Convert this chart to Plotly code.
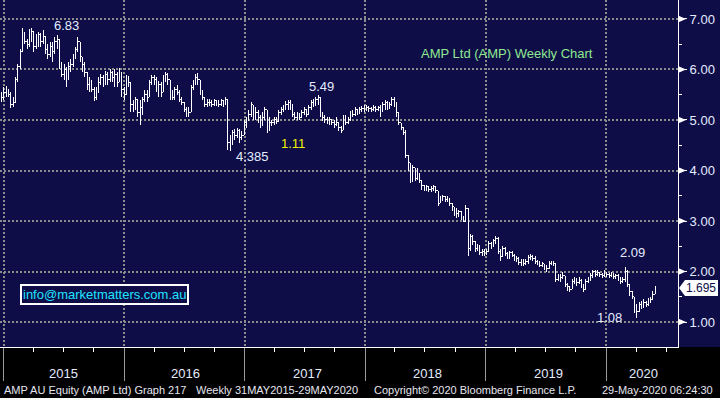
import plotly.graph_objects as go
import pandas as pd

# ---------------- data (weekly bars) ----------------
start_date = "2014-12-26"
first_open = 5.40

close = [
    5.45, 5.55, 5.60, 5.50, 5.30, 5.35, 5.80, 6.05, 6.35, 6.70, 6.55, 6.50,
    6.70, 6.75, 6.45, 6.60, 6.70, 6.55, 6.65, 6.40, 6.30, 6.45, 6.35, 6.55, 6.60,
    6.10, 5.90, 6.00, 5.80, 6.05, 6.10,
    6.25, 6.40, 6.55, 6.25, 6.10, 5.95,
    5.70, 5.75, 5.60, 5.45, 5.55,
    5.75, 5.85, 5.70, 5.90, 5.80, 5.95, 5.85,
    5.90, 5.75, 5.95, 5.60, 5.50, 5.80, 5.75, 5.30, 5.25,
    5.40, 5.15, 5.25, 5.40, 5.50, 5.45,
    5.75, 5.85, 5.80, 5.60, 5.70, 5.55,
    5.85, 5.90, 5.80, 5.50, 5.45, 5.60,
    5.55, 5.40, 5.35, 5.20, 5.10, 5.15,
    5.65, 5.75, 5.85, 5.80, 5.55, 5.45,
    5.30, 5.35, 5.35, 5.30, 5.38, 5.35, 5.30, 5.38, 5.32,
    5.40, 4.55, 4.60, 4.75, 4.70, 4.80, 4.65, 4.70,
    4.95, 5.00, 5.10, 5.30, 5.10, 5.15, 5.05, 4.90, 5.05, 5.20,
    4.80, 4.95, 4.95, 5.00, 4.98, 5.15, 5.20, 5.25, 5.30, 5.35, 5.30,
    5.10, 5.05, 5.12, 5.05, 5.15, 5.20, 5.10, 5.25, 5.35, 5.30, 5.40, 5.45,
    5.10, 5.05, 5.00, 4.98, 5.00, 4.95, 4.92, 4.95, 4.85, 4.80, 5.05, 4.95, 5.00,
    5.15, 5.10, 5.20, 5.15, 5.20, 5.22, 5.20, 5.25, 5.22, 5.20, 5.25, 5.20, 5.25,
    5.18, 5.30, 5.35, 5.25, 5.30, 5.40, 5.35, 5.15, 4.95, 4.85,
    4.75, 4.30, 4.15, 3.85, 4.05, 3.85, 3.95, 3.80,
    3.70, 3.65, 3.68, 3.62, 3.65, 3.68, 3.60, 3.35, 3.45,
    3.48, 3.42, 3.45, 3.35, 3.28, 3.20, 3.15, 3.18, 3.08, 3.00,
    3.25, 2.45, 2.70, 2.60, 2.45, 2.50, 2.38, 2.40, 2.35, 2.40,
    2.55, 2.50, 2.62, 2.65, 2.40, 2.30, 2.45, 2.35, 2.30, 2.38, 2.32, 2.28,
    2.25, 2.18, 2.22, 2.15, 2.20, 2.28, 2.30, 2.25, 2.20, 2.18, 2.12, 2.15, 2.08, 2.05, 2.15, 2.18, 2.15,
    1.85, 1.90, 1.88, 1.92, 1.75, 1.70, 1.65, 1.80, 1.85, 1.78, 1.82, 1.72, 1.65,
    1.80, 1.85, 1.92, 2.00, 1.95, 1.98, 1.95, 1.92, 1.98, 1.95, 1.92, 1.95, 1.90, 1.92, 1.88, 1.80, 1.85,
    2.00, 1.75, 1.60, 1.50, 1.30, 1.20, 1.35, 1.30, 1.38, 1.35, 1.40, 1.45, 1.55, 1.695,
]

high = [
    5.55, 5.65, 5.68, 5.62, 5.55, 5.45, 5.85, 6.10, 6.40, 6.82, 6.75, 6.60,
    6.80, 6.83, 6.65, 6.70, 6.75, 6.72, 6.78, 6.65, 6.50, 6.55, 6.55, 6.65, 6.68,
    6.35, 6.15, 6.10, 6.05, 6.15, 6.20,
    6.30, 6.45, 6.64, 6.55, 6.25, 6.15,
    5.95, 5.85, 5.80, 5.65, 5.65,
    5.85, 5.92, 5.90, 5.98, 5.95, 6.00, 5.98,
    6.00, 5.95, 6.02, 5.80, 5.65, 5.90, 5.88, 5.50, 5.40,
    5.45, 5.35, 5.40, 5.45, 5.60, 5.60,
    5.80, 5.90, 5.90, 5.85, 5.78, 5.75,
    5.90, 5.95, 5.93, 5.70, 5.60, 5.65,
    5.70, 5.60, 5.45, 5.35, 5.25, 5.25,
    5.70, 5.80, 5.92, 5.93, 5.80, 5.60,
    5.45, 5.42, 5.42, 5.40, 5.42, 5.40, 5.40, 5.42, 5.40,
    5.45, 5.40, 4.70, 4.80, 4.82, 4.85, 4.82, 4.78,
    5.00, 5.05, 5.20, 5.35, 5.30, 5.25, 5.20, 5.10, 5.15, 5.25,
    5.05, 5.05, 5.00, 5.05, 5.05, 5.20, 5.25, 5.30, 5.38, 5.40, 5.40,
    5.30, 5.15, 5.15, 5.12, 5.20, 5.25, 5.22, 5.30, 5.40, 5.42, 5.45, 5.49,
    5.42, 5.15, 5.10, 5.05, 5.05, 5.02, 5.00, 5.05, 4.95, 4.88, 5.10, 5.10, 5.05,
    5.18, 5.20, 5.25, 5.22, 5.25, 5.28, 5.30, 5.30, 5.28, 5.25, 5.30, 5.28, 5.28,
    5.30, 5.35, 5.40, 5.38, 5.35, 5.45, 5.45, 5.30, 5.05, 4.95,
    4.85, 4.80, 4.25, 4.15, 4.10, 4.00, 4.05, 3.95,
    3.78, 3.72, 3.72, 3.70, 3.70, 3.72, 3.70, 3.60, 3.50,
    3.52, 3.50, 3.50, 3.45, 3.35, 3.28, 3.25, 3.22, 3.20, 3.10,
    3.32, 3.25, 2.75, 2.72, 2.60, 2.55, 2.52, 2.45, 2.45, 2.45,
    2.60, 2.58, 2.65, 2.70, 2.68, 2.45, 2.50, 2.48, 2.38, 2.40, 2.40, 2.35,
    2.30, 2.28, 2.25, 2.25, 2.25, 2.32, 2.35, 2.32, 2.30, 2.22, 2.20, 2.18, 2.15, 2.12, 2.20, 2.20, 2.20,
    2.00, 1.95, 1.95, 2.00, 1.90, 1.78, 1.72, 1.85, 1.90, 1.88, 1.90, 1.85, 1.75,
    1.85, 1.90, 1.98, 2.03, 2.02, 2.02, 2.00, 1.98, 2.02, 2.00, 1.98, 2.00, 1.98, 1.95, 1.95, 1.90, 1.90,
    2.09, 2.02, 1.75, 1.62, 1.48, 1.35, 1.40, 1.42, 1.45, 1.42, 1.48, 1.50, 1.62, 1.72,
]

low = [
    5.35, 5.40, 5.45, 5.45, 5.24, 5.25, 5.40, 5.75, 6.00, 6.35, 6.50, 6.40,
    6.45, 6.55, 6.35, 6.40, 6.45, 6.45, 6.50, 6.30, 6.20, 6.25, 6.15, 6.30, 6.40,
    6.00, 5.85, 5.80, 5.65, 5.80, 5.95,
    6.05, 6.20, 6.35, 6.15, 5.95, 5.85,
    5.60, 5.55, 5.55, 5.38, 5.40,
    5.55, 5.70, 5.65, 5.70, 5.70, 5.75, 5.75,
    5.65, 5.65, 5.80, 5.45, 5.40, 5.55, 5.65, 5.15, 5.15,
    5.20, 5.05, 4.90, 5.10, 5.35, 5.35,
    5.50, 5.70, 5.70, 5.55, 5.45, 5.45,
    5.60, 5.75, 5.70, 5.40, 5.40, 5.40,
    5.50, 5.35, 5.30, 5.15, 5.05, 5.05,
    5.15, 5.60, 5.70, 5.70, 5.50, 5.40,
    5.25, 5.25, 5.28, 5.25, 5.28, 5.28, 5.25, 5.28, 5.25,
    5.30, 4.40, 4.39, 4.50, 4.60, 4.65, 4.55, 4.60,
    4.70, 4.85, 4.98, 5.05, 5.00, 5.00, 4.95, 4.85, 4.88, 5.00,
    4.75, 4.78, 4.88, 4.90, 4.92, 5.00, 5.10, 5.15, 5.20, 5.20, 5.20,
    5.05, 5.00, 5.00, 5.00, 5.05, 5.10, 5.05, 5.10, 5.20, 5.25, 5.28, 5.30,
    5.05, 4.98, 4.95, 4.92, 4.90, 4.90, 4.85, 4.88, 4.78, 4.75, 4.80, 4.90, 4.92,
    4.98, 5.05, 5.08, 5.10, 5.12, 5.15, 5.15, 5.18, 5.15, 5.15, 5.18, 5.15, 5.18,
    5.05, 5.15, 5.20, 5.20, 5.22, 5.28, 5.25, 5.05, 4.90, 4.80,
    4.70, 4.25, 4.00, 3.75, 3.78, 3.80, 3.82, 3.75,
    3.62, 3.60, 3.60, 3.58, 3.58, 3.60, 3.55, 3.30, 3.40,
    3.40, 3.38, 3.38, 3.30, 3.20, 3.10, 3.05, 3.08, 3.02, 2.98,
    2.98, 2.30, 2.40, 2.52, 2.38, 2.40, 2.32, 2.30, 2.30, 2.32,
    2.38, 2.45, 2.48, 2.55, 2.35, 2.20, 2.28, 2.30, 2.25, 2.25, 2.28, 2.20,
    2.18, 2.12, 2.10, 2.10, 2.12, 2.15, 2.22, 2.20, 2.15, 2.12, 2.08, 2.08, 2.02, 2.00, 2.05, 2.12, 2.10,
    1.80, 1.82, 1.80, 1.85, 1.70, 1.62, 1.60, 1.65, 1.75, 1.72, 1.75, 1.68, 1.60,
    1.65, 1.78, 1.82, 1.88, 1.90, 1.92, 1.90, 1.88, 1.90, 1.90, 1.88, 1.90, 1.85, 1.85, 1.82, 1.75, 1.78,
    1.80, 1.70, 1.52, 1.45, 1.18, 1.08, 1.20, 1.25, 1.28, 1.30, 1.32, 1.38, 1.45, 1.55,
]

year_labels = ["2015", "2016", "2017", "2018", "2019", "2020"]
y_ticks = [1, 2, 3, 4, 5, 6, 7]
last_price = "1.695"

# weekly bars: open taken as previous week's close
dates = pd.date_range(start_date, periods=len(close), freq="7D")
opens = [first_open] + close[:-1]
high_adj = [max(h, o, c) for h, o, c in zip(high, opens, close)]
low_adj = [min(l, o, c) for l, o, c in zip(low, opens, close)]

# ---------------- styling ----------------
NAVY = "#0e0d48"
GRID = "#8c8c8c"
LABEL = "#e4ecff"
FONT = "Liberation Sans"
PW, PH = 678.0, 347.0  # plot area in px


def P(x, y):
    """pixel position -> paper coords"""
    return x / PW, 1 - y / PH


fig = go.Figure()
fig.add_trace(go.Ohlc(
    x=dates, open=opens, high=high_adj, low=low_adj, close=close,
    increasing=dict(line=dict(color="white", width=1)),
    decreasing=dict(line=dict(color="white", width=1)),
    tickwidth=0.45, hoverinfo="skip", showlegend=False,
))

annotations = []


def add_text(text, x, y, color=LABEL, size=13, xanchor="center", **kw):
    px_, py_ = P(x, y)
    annotations.append(dict(
        text=text, x=px_, y=py_, xref="paper", yref="paper",
        xanchor=xanchor, yanchor="middle", showarrow=False,
        font=dict(family=FONT, size=size, color=color), **kw))


# value callouts
add_text("6.83", 66, 26)
add_text("4.385", 252, 157)
add_text("5.49", 321, 87)
add_text("1.11", 293, 144, color="#f0f000")
add_text("2.09", 632, 252)
add_text("1.08", 609, 317)
add_text("AMP Ltd (AMP) Weekly Chart", 507, 53, color="#8fe88f")
add_text("info@marketmatters.com.au", 104, 294, color="#1ee4ff",
         bordercolor="white", borderwidth=2, borderpad=1, bgcolor=NAVY)

# year labels, centred in each visible year span
year_px = [3.5, 124, 247, 367, 488, 608, 678]
for i, lab in enumerate(year_labels):
    add_text(lab, (year_px[i] + year_px[i + 1]) / 2, 373, size=13)

# footer
FOOT = "#e6e6f0"
add_text("AMP AU Equity (AMP Ltd) Graph 217", 2, 390, size=11, xanchor="left", color=FOOT)
add_text("Weekly 31MAY2015-29MAY2020", 194, 390, size=11, xanchor="left", color=FOOT)
add_text("Copyright\u00a9 2020 Bloomberg Finance L.P.", 372, 390, size=11, xanchor="left", color=FOOT)
add_text("29-May-2020 06:24:30", 600, 390, size=11, xanchor="left", color=FOOT)

# last price flag text
add_text(last_price, 701, 288, color=NAVY, size=12)

shapes = []
# black footer band
x0, y0 = P(-5, 347)
x1, y1 = P(725, 405)
shapes.append(dict(type="rect", xref="paper", yref="paper", x0=x0, y0=y0, x1=x1, y1=y1,
                   fillcolor="black", line=dict(width=0), layer="below"))
# triangles at major y ticks
for v in y_ticks:
    shapes.append(dict(type="path", xref="paper", yref="y",
                       path=f"M 1,{v + 0.07} L 1,{v - 0.07} L {1 + 8 / PW},{v} Z",
                       fillcolor="white", line=dict(width=0)))
# last price flag
pts = [P(679, 288), P(685, 280), P(718, 280), P(718, 296), P(685, 296)]
path = "M " + " L ".join(f"{a},{b}" for a, b in pts) + " Z"
shapes.append(dict(type="path", xref="paper", yref="paper", path=path,
                   fillcolor="white", line=dict(width=0)))

fig.update_layout(
    width=720, height=398,
    margin=dict(l=0, r=42, t=0, b=51),
    paper_bgcolor=NAVY, plot_bgcolor=NAVY,
    showlegend=False,
    annotations=annotations,
    shapes=shapes,
    xaxis=dict(
        type="date", range=["2014-12-21", "2020-08-06"],
        tick0="2015-01-01", dtick="M12",
        ticks="outside", ticklen=33, tickcolor="#9a9a9a", tickwidth=1,
        showticklabels=False,
        showgrid=True, gridcolor=GRID, gridwidth=2, griddash="2px,2px",
        showline=True, linecolor="white", linewidth=1,
        zeroline=False, fixedrange=True,
        rangeslider=dict(visible=False),
        minor=dict(tick0="2015-01-01", dtick="M3", ticks="outside", ticklen=4,
                   tickcolor="white", tickwidth=1, showgrid=False),
    ),
    yaxis=dict(
        side="right", range=[0.505, 7.376],
        tickvals=y_ticks, tickformat=".2f",
        ticks="outside", ticklen=8, tickwidth=1, tickcolor="white",
        tickfont=dict(family=FONT, size=13, color=LABEL),
        showgrid=True, gridcolor=GRID, gridwidth=2, griddash="2px,2px",
        showline=True, linecolor="white", linewidth=1,
        zeroline=False, fixedrange=True,
        minor=dict(dtick=0.5, tick0=0.5, ticks="outside", ticklen=3,
                   tickcolor="white", tickwidth=1, showgrid=False),
    ),
)

fig.write_html(
    "out.html",
    config={"displayModeBar": False},
    post_script=(
        "document.body.style.margin='0';document.body.style.overflow='hidden';"
        "document.querySelectorAll('.ohlc path').forEach(function(p){p.style.shapeRendering='crispEdges';});"
    ),
)
